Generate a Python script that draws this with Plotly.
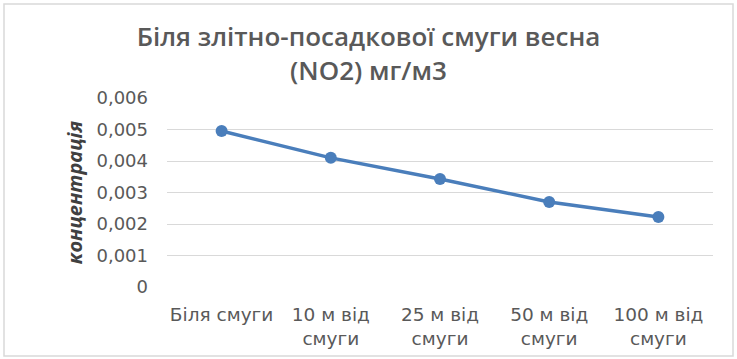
import plotly.graph_objects as go

# Concentration of NO2 near the runway, spring
categories = ["Біля смуги", "10 м від<br>смуги", "25 м від<br>смуги", "50 м від<br>смуги", "100 м від<br>смуги"]
concentration = [0.00495, 0.0041, 0.00343, 0.0027, 0.00222]
y_ticks = [0, 0.001, 0.002, 0.003, 0.004, 0.005, 0.006]
y_tick_labels = ["0", "0,001", "0,002", "0,003", "0,004", "0,005", "0,006"]

W, H = 737, 359
L, R, T, B = 167, 24, 98, 72
pw, ph = W - L - R, H - T - B

def px_x(x):
    return (x - L) / pw

def px_y(y):
    return (H - B - y) / ph

fig = go.Figure()
fig.add_trace(go.Scatter(
    x=categories, y=concentration, mode="lines+markers",
    line=dict(color="#4A7EBB", width=3.5),
    marker=dict(color="#4A7EBB", size=12),
    hoverinfo="skip", showlegend=False,
))

fig.update_layout(
    width=W, height=H,
    margin=dict(l=L, r=R, t=T, b=B),
    paper_bgcolor="white", plot_bgcolor="white",
    font=dict(family="DejaVu Sans, sans-serif", color="#595959"),
    title=dict(
        text="Біля злітно-посадкової смуги весна<br>(NO2) мг/м3",
        x=0.5, xanchor="center", y=1 - 46 / H, yanchor="middle",
        font=dict(size=26, color="#595959", family="Open Sans, sans-serif", weight=600),
        automargin=False,
    ),
    xaxis=dict(
        showgrid=False, zeroline=False, showline=False, ticks="",
        tickfont=dict(size=18.5, color="#595959"),
        ticklabelstandoff=14, automargin=False,
        range=[-0.5, 4.5], fixedrange=True,
    ),
    yaxis=dict(
        range=[0, 0.006], tickvals=y_ticks, ticktext=y_tick_labels,
        showgrid=True, gridcolor="#D9D9D9", gridwidth=1,
        zeroline=False, showline=False, ticks="",
        tickfont=dict(size=18, color="#595959"),
        ticklabelstandoff=18, automargin=False,
        title=dict(text="<b><i>концентрація</i></b>",
                   font=dict(size=20, color="#404040", family="Open Sans, sans-serif"), standoff=8),
        fixedrange=True,
    ),
    shapes=[
        dict(type="rect", xref="paper", yref="paper",
             x0=px_x(4), x1=px_x(733), y0=px_y(356), y1=px_y(4),
             line=dict(color="#D9D9D9", width=1.5), fillcolor="rgba(0,0,0,0)", layer="below"),
    ],
)

fig.write_html("out.html")
